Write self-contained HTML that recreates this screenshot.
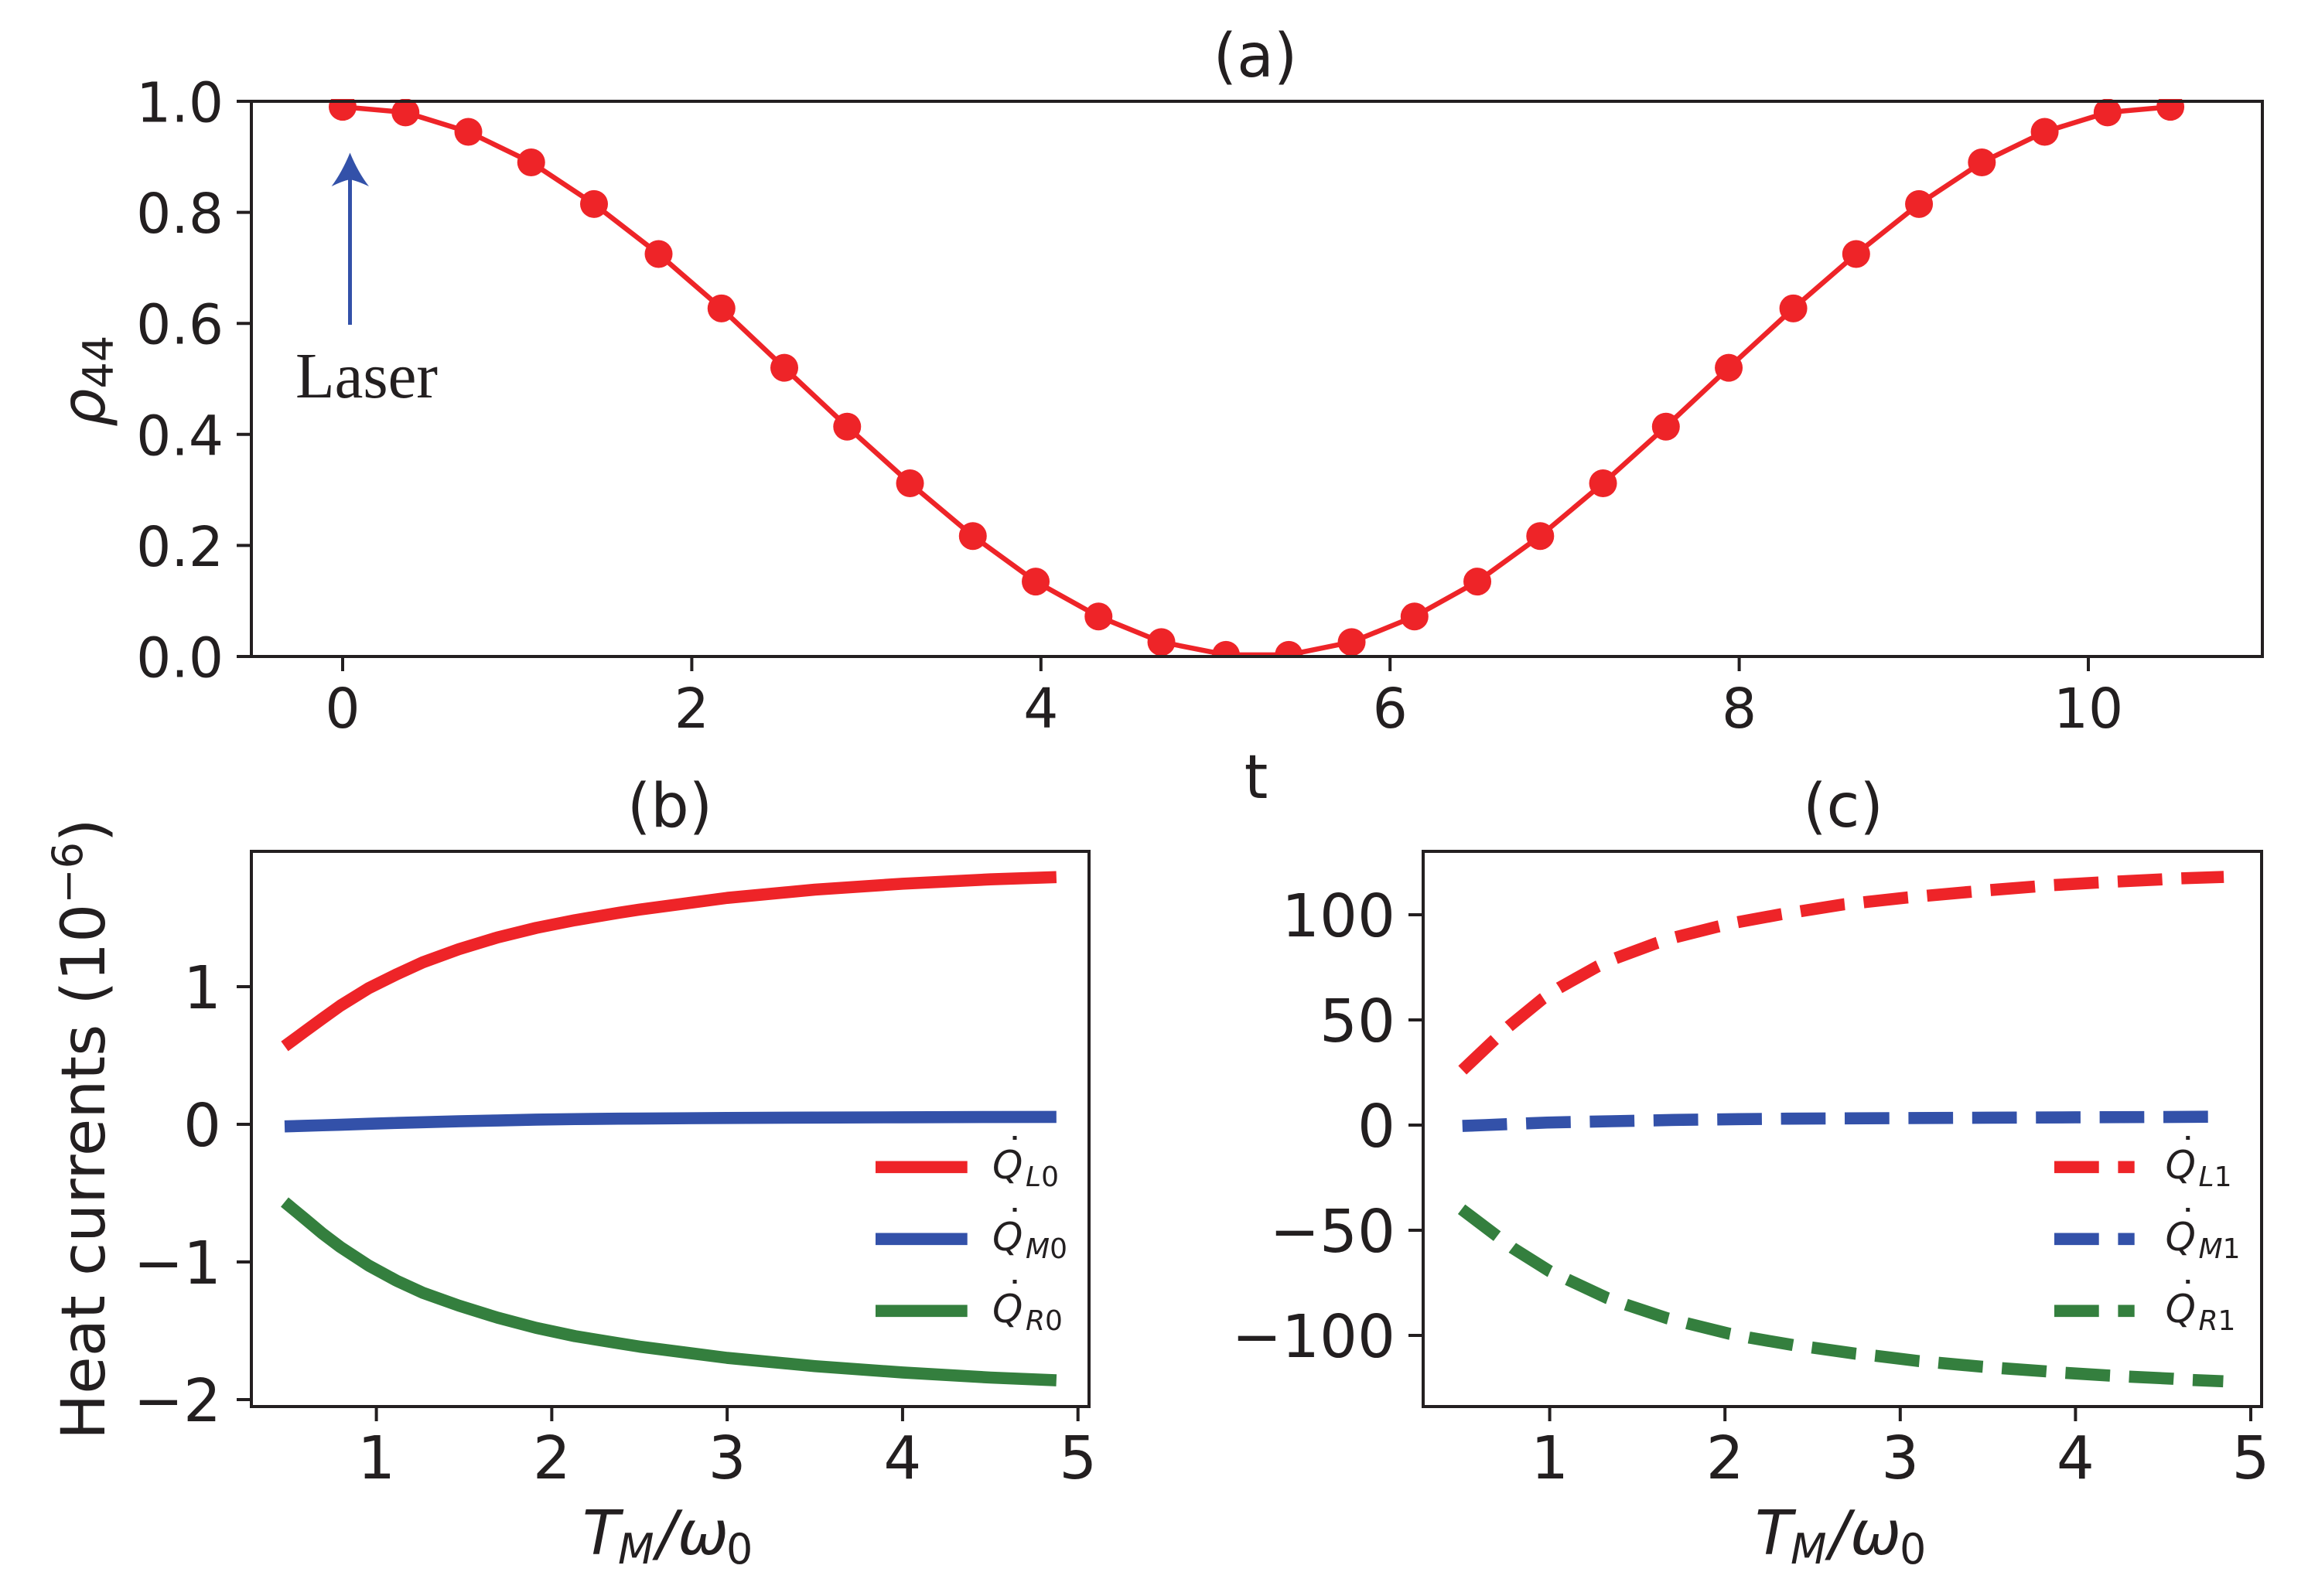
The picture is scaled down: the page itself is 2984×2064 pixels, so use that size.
<!DOCTYPE html>
<html lang="en">
<head>
<meta charset="utf-8">
<title>Heat currents chart</title>
<style>
html,body{margin:0;padding:0;background:#fff;}
svg{display:block;}
text{font-family:"DejaVu Sans",sans-serif;fill:#231f20;}
.it{font-style:italic;}
.tick-label{font-size:71px;}
.tick-label-low{font-size:77px;}
.q{font-size:50px;font-style:italic;}
.qs{font-size:36px;font-style:italic;}
.qn{font-size:36px;font-style:normal;}
.qd{font-size:50px;font-style:normal;}
</style>
</head>
<body>
<svg id="chart" xmlns="http://www.w3.org/2000/svg" width="2984" height="2064" viewBox="0 0 2984 2064">
<rect x="0" y="0" width="2984" height="2064" fill="#fff"/>
<defs>
<clipPath id="clip-a"><rect x="325" y="128" width="2600" height="723"/></clipPath>
<clipPath id="clip-b"><rect x="325" y="1101" width="1083" height="718"/></clipPath>
<clipPath id="clip-c"><rect x="1840" y="1101" width="1084" height="718"/></clipPath>
</defs>
<g id="panel-a"></g>
<g id="panel-b"></g>
<g id="panel-c"></g>

<text x="1623" y="99" font-size="78" text-anchor="middle">(a)</text>
<text x="866" y="1069" font-size="78" text-anchor="middle">(b)</text>
<text x="2383" y="1069" font-size="78" text-anchor="middle">(c)</text>
<text x="1624" y="1032" font-size="78" text-anchor="middle">t</text>

<text transform="translate(135 552) rotate(-90)" font-size="78"><tspan class="it">ρ</tspan><tspan font-size="54" dy="11">44</tspan></text>
<text transform="translate(135 1862) rotate(-90)" font-size="78.8">Heat currents (10<tspan font-size="54" dy="-29">−6</tspan><tspan dy="29">)</tspan></text>

<text y="2010" font-size="79"><tspan class="it" x="753">T</tspan><tspan class="it" x="799" y="2022" font-size="54">M</tspan><tspan class="it" x="849" y="2010">/</tspan><tspan class="it" x="876" y="2010">ω</tspan><tspan x="939" y="2022" font-size="54">0</tspan></text>
<text y="2010" font-size="79"><tspan class="it" x="2269">T</tspan><tspan class="it" x="2315" y="2022" font-size="54">M</tspan><tspan class="it" x="2365" y="2010">/</tspan><tspan class="it" x="2392" y="2010">ω</tspan><tspan x="2456" y="2022" font-size="54">0</tspan></text>

<g>
<line x1="452.5" y1="420" x2="452.5" y2="225" stroke="#3351a9" stroke-width="5"/>
<path d="M452.5 197.5 Q463 223 477 241 Q462 234 452.5 232 Q443 234 428.6 241 Q442 223 452.5 197.5Z" fill="#3351a9"/>
<text x="382" y="514" font-size="84" textLength="184" lengthAdjust="spacingAndGlyphs" style="font-family:'Liberation Serif',serif">Laser</text>
</g>

<g>
<line x1="1132" y1="1509.3" x2="1250.7" y2="1509.3" stroke="#ee2428" stroke-width="15.6"/>
<line x1="1132" y1="1602.3" x2="1250.7" y2="1602.3" stroke="#3351a9" stroke-width="15.6"/>
<line x1="1132" y1="1695.3" x2="1250.7" y2="1695.3" stroke="#347f3e" stroke-width="15.6"/>
<text><tspan class="q" x="1283" y="1524">Q</tspan><tspan class="qs" x="1326" y="1534">L</tspan><tspan class="qn">0</tspan></text>
<text><tspan class="q" x="1283" y="1617">Q</tspan><tspan class="qs" x="1326" y="1627">M</tspan><tspan class="qn">0</tspan></text>
<text><tspan class="q" x="1283" y="1710">Q</tspan><tspan class="qs" x="1326" y="1720">R</tspan><tspan class="qn">0</tspan></text>
<text class="qd" x="1312" y="1524" dy="-17" text-anchor="middle">˙</text>
<text class="qd" x="1312" y="1617" dy="-17" text-anchor="middle">˙</text>
<text class="qd" x="1312" y="1710" dy="-17" text-anchor="middle">˙</text>
</g>

<g>
<line x1="2656" y1="1509.3" x2="2759.7" y2="1509.3" stroke="#ee2428" stroke-width="15.6" stroke-dasharray="57.7 24.7"/>
<line x1="2656" y1="1602.3" x2="2759.7" y2="1602.3" stroke="#3351a9" stroke-width="15.6" stroke-dasharray="57.7 24.7"/>
<line x1="2656" y1="1695.3" x2="2759.7" y2="1695.3" stroke="#347f3e" stroke-width="15.6" stroke-dasharray="57.7 24.7"/>
<text><tspan class="q" x="2799.5" y="1524">Q</tspan><tspan class="qs" x="2842.5" y="1534">L</tspan><tspan class="qn">1</tspan></text>
<text><tspan class="q" x="2799.5" y="1617">Q</tspan><tspan class="qs" x="2842.5" y="1627">M</tspan><tspan class="qn">1</tspan></text>
<text><tspan class="q" x="2799.5" y="1710">Q</tspan><tspan class="qs" x="2842.5" y="1720">R</tspan><tspan class="qn">1</tspan></text>
<text class="qd" x="2828.7" y="1524" dy="-17" text-anchor="middle">˙</text>
<text class="qd" x="2828.7" y="1617" dy="-17" text-anchor="middle">˙</text>
<text class="qd" x="2828.7" y="1710" dy="-17" text-anchor="middle">˙</text>
</g>
</svg>

<script>
// ---------- Panel (a) data ----------
const timeValues = [0,0.36,0.72,1.08,1.44,1.81,2.17,2.53,2.89,3.25,3.61,3.97,4.33,4.69,5.06,5.42,5.78,6.14,6.5,6.86,7.22,7.58,7.94,8.31,8.67,9.03,9.39,9.75,10.11,10.47];
const rho44Values = [0.99,0.98,0.945,0.89,0.815,0.725,0.627,0.52,0.414,0.312,0.217,0.135,0.072,0.026,0.003,0.003,0.026,0.072,0.135,0.217,0.312,0.414,0.52,0.627,0.725,0.815,0.89,0.945,0.98,0.99];
const aXTicks = [0,2,4,6,8,10];
const aXTickLabels = ["0","2","4","6","8","10"];
const aYTicks = [0,0.2,0.4,0.6,0.8,1];
const aYTickLabels = ["0.0","0.2","0.4","0.6","0.8","1.0"];

// ---------- Panel (b) data ----------
const bTemperatures = [0.477,0.589,0.692,0.795,0.956,1.118,1.265,1.47,1.691,1.911,2.132,2.382,2.5,3,3.5,4,4.5,4.877];
const qL0Values = [0.567,0.672,0.768,0.862,0.989,1.091,1.177,1.272,1.358,1.427,1.483,1.537,1.56,1.645,1.705,1.748,1.78,1.796];
const qM0Values = [-0.015,-0.011,-0.007,-0.003,0.004,0.01,0.015,0.022,0.028,0.034,0.038,0.041,0.042,0.046,0.049,0.051,0.053,0.054];
const qR0Values = [-0.565,-0.683,-0.793,-0.892,-1.026,-1.138,-1.224,-1.317,-1.405,-1.479,-1.539,-1.591,-1.615,-1.697,-1.757,-1.803,-1.84,-1.86];
const bXTicks = [1,2,3,4,5];
const bXTickLabels = ["1","2","3","4","5"];
const bYTicks = [-2,-1,0,1];
const bYTickLabels = ["−2","−1","0","1"];

// ---------- Panel (c) data ----------
const qL1Temperatures = [0.502,0.683,0.767,0.959,1.055,1.272,1.375,1.609,1.717,1.961,2.068,2.317,2.425,2.68,2.786,3.037,3.4,3.508,3.873,4.124,4.237,4.487,4.597,4.846];
const qL1Values = [26.1,40.4,46.9,60,65.3,75.4,79.3,86.5,89.3,94.4,96.4,100.2,101.6,105,105.9,108.2,110.9,111.7,114.1,115.3,115.8,116.8,117.3,118];
const qM1Temperatures = [0.502,0.631,0.984,1.352,1.715,2.079,2.352,3,3.5,4,4.5,4.846];
const qM1Values = [-0.4,0,1.2,1.84,2.45,2.82,3.06,3.3,3.5,3.7,3.85,4];
const qR1Temperatures = [0.497,0.7,0.79,1,1.109,1.327,1.441,1.673,1.787,2.025,2.142,2.389,2.5,2.745,2.861,3.106,3.217,3.468,3.581,3.832,3.942,4.193,4.306,4.556,4.667,4.843];
const qR1Values = [-40,-52.8,-58.5,-69.5,-73.7,-82.2,-85.5,-91.9,-94.3,-99.2,-101.1,-104.6,-105.8,-108.7,-109.7,-112.2,-113,-114.9,-115.6,-117.1,-117.8,-119.1,-119.6,-120.6,-121.2,-121.8];
const cXTicks = [1,2,3,4,5];
const cXTickLabels = ["1","2","3","4","5"];
const cYTicks = [-100,-50,0,50,100];
const cYTickLabels = ["−100","−50","0","50","100"];

const NS = "http://www.w3.org/2000/svg";
const INK = "#231f20", RED = "#ee2428", BLUE = "#3351a9", GREEN = "#347f3e";

function linear(d0, d1, r0, r1) {
  return function (v) { return r0 + (v - d0) * (r1 - r0) / (d1 - d0); };
}
function make(parent, tag, attrs, txt) {
  const el = document.createElementNS(NS, tag);
  for (const k in attrs) el.setAttribute(k, attrs[k]);
  if (txt !== undefined) el.textContent = txt;
  parent.appendChild(el);
  return el;
}
function drawAxes(g, box, sx, sy, xt, xl, yt, yl, o) {
  for (let i = 0; i < xt.length; i++) {
    const x = sx(xt[i]);
    const tick = make(g, "line", {x1: x, x2: x, y1: box.bottom, y2: box.bottom + 19, stroke: INK, "stroke-width": 4});
    
    
    const lab = make(g, "text", {x: x, y: o.xBase, "text-anchor": "middle", "class": o.cls}, xl[i]);
    
    
  }
  for (let i = 0; i < yt.length; i++) {
    const y = sy(yt[i]);
    const tick = make(g, "line", {x1: box.left - 19, x2: box.left, y1: y, y2: y, stroke: INK, "stroke-width": 4});
    
    
    const lab = make(g, "text", {x: o.yRight, y: y + o.yShift, "text-anchor": "end", "class": o.cls}, yl[i]);
    
    
  }
}
function drawFrame(g, box) {
  const frame = make(g, "rect", {x: box.left, y: box.top, width: box.right - box.left, height: box.bottom - box.top, fill: "none", stroke: INK, "stroke-width": 4});
  
  
}
function linePath(xs, ys, sx, sy) {
  return xs.map(function (v, i) { return (i ? "L" : "M") + sx(v).toFixed(2) + " " + sy(ys[i]).toFixed(2); }).join(" ");
}
function drawSeries(g, xs, ys, sx, sy, color, width, dash, clip, name) {
  const p = make(g, "path", {d: linePath(xs, ys, sx, sy), fill: "none", stroke: color, "stroke-width": width, "stroke-linejoin": "round", "stroke-linecap": "butt", "clip-path": "url(#" + clip + ")"});
  if (dash) p.setAttribute("stroke-dasharray", dash);
  
  
  return p;
}

// Panel (a)
(function () {
  const g = document.getElementById("panel-a");
  const box = {left: 325, right: 2925, top: 131, bottom: 849};
  const sx = linear(0, 10, 443, 2700);
  const sy = linear(0, 1, 849, 131);
  drawSeries(g, timeValues, rho44Values, sx, sy, RED, 6.5, null, "clip-a", "rho44-line");
  for (let i = 0; i < timeValues.length; i++) {
    const m = make(g, "circle", {cx: sx(timeValues[i]), cy: sy(rho44Values[i]), r: 18, fill: RED, "clip-path": "url(#clip-a)"});
    
    
  }
  drawAxes(g, box, sx, sy, aXTicks, aXTickLabels, aYTicks, aYTickLabels, {xBase: 941, yRight: 289, yShift: 26.5, cls: "tick-label"});
  drawFrame(g, box);
})();

// Panel (b)
(function () {
  const g = document.getElementById("panel-b");
  const box = {left: 325, right: 1408, top: 1101, bottom: 1819};
  const sx = linear(1, 5, 486.6, 1393.7);
  const sy = linear(0, 1, 1454, 1276);
  drawSeries(g, bTemperatures, qL0Values, sx, sy, RED, 15.6, null, "clip-b", "q-l0-line");
  drawSeries(g, bTemperatures, qM0Values, sx, sy, BLUE, 15.6, null, "clip-b", "q-m0-line");
  drawSeries(g, bTemperatures, qR0Values, sx, sy, GREEN, 15.6, null, "clip-b", "q-r0-line");
  drawAxes(g, box, sx, sy, bXTicks, bXTickLabels, bYTicks, bYTickLabels, {xBase: 1912, yRight: 286, yShift: 28, cls: "tick-label-low"});
  drawFrame(g, box);
})();

// Panel (c)
(function () {
  const g = document.getElementById("panel-c");
  const box = {left: 1840, right: 2924, top: 1101, bottom: 1819};
  const sx = linear(1, 5, 2003.6, 2910);
  const sy = linear(0, 100, 1455, 1183);
  const dash = "57.7 24.7";
  drawSeries(g, qL1Temperatures, qL1Values, sx, sy, RED, 15.6, dash, "clip-c", "q-l1-line");
  drawSeries(g, qM1Temperatures, qM1Values, sx, sy, BLUE, 15.6, dash, "clip-c", "q-m1-line");
  drawSeries(g, qR1Temperatures, qR1Values, sx, sy, GREEN, 15.6, dash, "clip-c", "q-r1-line");
  drawAxes(g, box, sx, sy, cXTicks, cXTickLabels, cYTicks, cYTickLabels, {xBase: 1912, yRight: 1804, yShift: 28, cls: "tick-label-low"});
  drawFrame(g, box);
})();
</script>
</body>
</html>
